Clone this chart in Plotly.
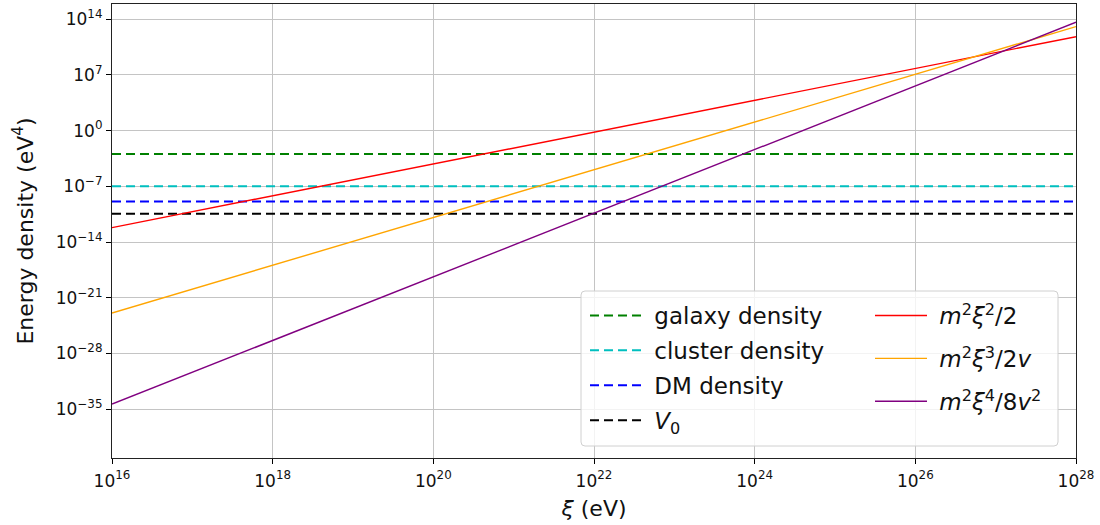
import plotly.graph_objects as go

# ---- data ----
xi_ends = [1e16, 1e28]

dens_names = ["galaxy density", "cluster density", "DM density", "<i>V</i><sub>0</sub>"]
dens_values = [1.2e-3, 1.0e-7, 1.25e-9, 3.5e-11]
dens_colors = ["#008000", "#00bfbf", "#0000ff", "#000000"]

curve_names = [
    "<i>m</i><sup>2</sup><i>ξ</i><sup>2</sup>/2",
    "<i>m</i><sup>2</sup><i>ξ</i><sup>3</sup>/2<i>v</i>",
    "<i>m</i><sup>2</sup><i>ξ</i><sup>4</sup>/8<i>v</i><sup>2</sup>",
]
curve_start = [6.5e-13, 1.2e-23, 4.2e-35]   # value at xi = 1e16
curve_end = [6.5e11, 1.2e13, 4.2e13]        # value at xi = 1e28
curve_colors = ["#ff0000", "#ffa500", "#800080"]

x_tick_exps = [16, 18, 20, 22, 24, 26, 28]
y_tick_exps = [-35, -28, -21, -14, -7, 0, 7, 14]

FONT = "DejaVu Sans"
NB = "\u00a0"

fig = go.Figure()

for i, (n, v, c) in enumerate(zip(dens_names, dens_values, dens_colors)):
    fig.add_trace(go.Scatter(
        x=xi_ends, y=[v, v], mode="lines", name=NB + n,
        line=dict(color=c, width=2, dash="9px,5px"),
        legend="legend", legendgroup=f"d{i}"))

for i, (n, a, b, c) in enumerate(zip(curve_names, curve_start, curve_end, curve_colors)):
    fig.add_trace(go.Scatter(
        x=xi_ends, y=[a, b], mode="lines", name=NB + n,
        line=dict(color=c, width=1.4),
        legend="legend2", legendgroup=f"c{i}"))

L, R, T, B = 112, 1076, 4, 458
W, H = 1100, 525


def px(xp):
    return (xp - L) / (R - L)


def py(yp):
    return (B - yp) / (B - T)


# legend frame (rounded rectangle)
x0, x1, y0, y1 = px(581), px(1058), py(446), py(291)
rx, ry = 4 / (R - L), 4 / (B - T)
path = (f"M{x0+rx},{y1} L{x1-rx},{y1} Q{x1},{y1} {x1},{y1-ry} "
        f"L{x1},{y0+ry} Q{x1},{y0} {x1-rx},{y0} "
        f"L{x0+rx},{y0} Q{x0},{y0} {x0},{y0+ry} "
        f"L{x0},{y1-ry} Q{x0},{y1} {x0+rx},{y1} Z")
fig.add_shape(type="path", path=path, xref="paper", yref="paper",
              fillcolor="rgba(255,255,255,0.8)",
              line=dict(color="#d0d0d0", width=1), layer="above")

fig.update_layout(
    width=W, height=H,
    margin=dict(l=L, r=W - R, t=T, b=H - B, autoexpand=False),
    paper_bgcolor="white", plot_bgcolor="white",
    font=dict(family=FONT, color="black", size=17),
    showlegend=True,
    legend=dict(x=px(585), y=py(294), xanchor="left", yanchor="top",
                bgcolor="rgba(0,0,0,0)", borderwidth=0,
                font=dict(family=FONT, size=23, color="#111"),
                itemwidth=52, traceorder="grouped", tracegroupgap=2),
    legend2=dict(x=px(870), y=py(294), xanchor="left", yanchor="top",
                 bgcolor="rgba(0,0,0,0)", borderwidth=0,
                 font=dict(family=FONT, size=23, color="#111"),
                 itemwidth=52, traceorder="grouped", tracegroupgap=10),
)

fig.update_xaxes(
    type="log", range=[16, 28],
    tickvals=[10.0 ** e for e in x_tick_exps],
    ticktext=[f"10<sup>{e}</sup>" for e in x_tick_exps],
    ticks="outside", ticklen=5, tickwidth=1, tickcolor="black",
    ticklabelstandoff=2,
    showline=True, linecolor="#222", linewidth=1.2, mirror=True,
    showgrid=True, gridcolor="#c4c4c4", gridwidth=1, zeroline=False,
    tickfont=dict(size=17, color="#111"),
    title=dict(text="<i>ξ</i> (eV)", font=dict(size=22, color="#111"), standoff=11),
)

fig.update_yaxes(
    type="log", range=[-41.15, 15.92],
    tickvals=[10.0 ** e for e in y_tick_exps],
    ticktext=[f"10<sup>{str(e).replace('-', '−')}</sup>" for e in y_tick_exps],
    ticks="outside", ticklen=5, tickwidth=1, tickcolor="black",
    showline=True, linecolor="#222", linewidth=1.2, mirror=True,
    showgrid=True, gridcolor="#c4c4c4", gridwidth=1, zeroline=False,
    tickfont=dict(size=17, color="#111"),
    title=dict(text="Energy density (eV<sup>4</sup>)", font=dict(size=22, color="#111"),
               standoff=16),
)

fig.write_html("out.html", config={"displayModeBar": False},
               post_script="document.body.style.margin='0px';")
